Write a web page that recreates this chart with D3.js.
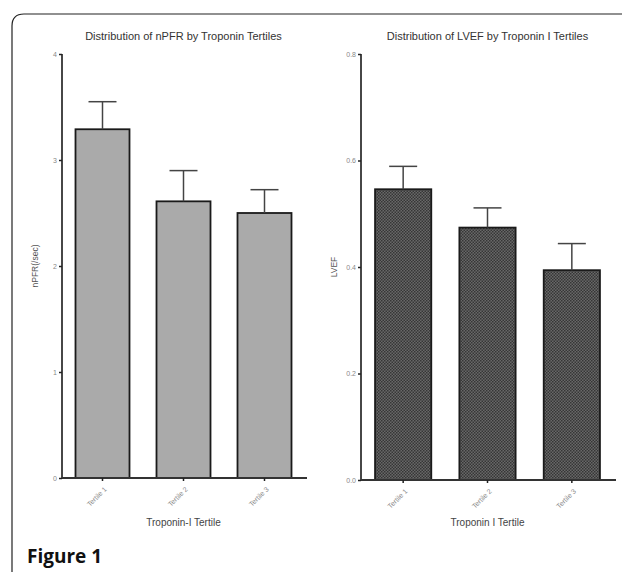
<!DOCTYPE html>
<html><head><meta charset="utf-8">
<script src="https://cdn.jsdelivr.net/npm/d3@7"></script>
<style>body{margin:0;background:#fff}svg{display:block}</style>
</head><body>
<svg id="c" width="622" height="575"></svg>
<script>
const categories = ["Tertile 1", "Tertile 2", "Tertile 3"];
const npfrMeans = [3.29, 2.61, 2.50];
const npfrErrTop = [3.55, 2.90, 2.72];
const lvefMeans = [0.546, 0.474, 0.394];
const lvefErrTop = [0.589, 0.511, 0.444];
const npfrTicks = [0, 1, 2, 3, 4];
const lvefTicks = [0.0, 0.2, 0.4, 0.6, 0.8];

const svg = d3.select("#c");
const defs = svg.append("defs");
const pat = defs.append("pattern").attr("id","dots").attr("patternUnits","userSpaceOnUse")
  .attr("width",3).attr("height",3);
pat.append("rect").attr("width",3).attr("height",3).attr("fill","#686868");
pat.append("rect").attr("x",0).attr("y",0).attr("width",1.5).attr("height",1.5).attr("fill","#363636");
pat.append("rect").attr("x",1.5).attr("y",1.5).attr("width",1.5).attr("height",1.5).attr("fill","#363636");

// frame
svg.append("path")
  .attr("d","M 640 14 L 24 14 Q 12 14 12 26 L 12 572")
  .attr("fill","none").attr("stroke","#222").attr("stroke-width",1.2);

svg.append("text").attr("x",27).attr("y",563).text("Figure 1")
  .attr("font-family","'Open Sans', 'DejaVu Sans', sans-serif").attr("font-weight","bold")
  .attr("font-size",19).attr("fill","#111");

function panel(opt){
  const g = svg.append("g");
  const y = d3.scaleLinear().domain(opt.domain).range([opt.y0, 54]);
  const x = d3.scaleBand().domain(categories).range(opt.xr).paddingInner(1/3).paddingOuter(1/6);
  const font = "'Liberation Sans', Arial, sans-serif";
  g.append("text").attr("x",(opt.xr[0]+opt.xr[1])/2).attr("y",40).attr("text-anchor","middle")
    .attr("font-family",font).attr("font-size",11).attr("fill","#333").text(opt.title);
  g.selectAll("rect.bar").data(opt.means).join("rect").attr("class","bar")
    .attr("x",(d,i)=>x(categories[i])).attr("width",x.bandwidth())
    .attr("y",d=>y(d)).attr("height",d=>y(opt.domain[0])-y(d))
    .attr("fill",opt.fill).attr("stroke","#1a1a1a").attr("stroke-width",1.8);
  const eg = g.selectAll("g.err").data(opt.means).join("g");
  eg.append("line").attr("x1",(d,i)=>x(categories[i])+x.bandwidth()/2).attr("x2",(d,i)=>x(categories[i])+x.bandwidth()/2)
    .attr("y1",d=>y(d)).attr("y2",(d,i)=>y(opt.err[i])).attr("stroke","#444").attr("stroke-width",1.5);
  eg.append("line").attr("x1",(d,i)=>x(categories[i])+x.bandwidth()/2-14).attr("x2",(d,i)=>x(categories[i])+x.bandwidth()/2+14)
    .attr("y1",(d,i)=>y(opt.err[i])).attr("y2",(d,i)=>y(opt.err[i])).attr("stroke","#444").attr("stroke-width",1.5);
  const ya = d3.axisLeft(y).tickValues(opt.ticks).tickFormat(opt.fmt).tickSize(3).tickPadding(2);
  const yg = g.append("g").attr("transform",`translate(${opt.xr[0]},0)`).call(ya);
  yg.select(".domain").attr("stroke","#333").attr("stroke-width",1.8).attr("d",`M0,${y(opt.domain[0])}V${y(opt.domain[1])}`);
  yg.selectAll(".tick line").attr("stroke","#222").attr("stroke-width",1.5);
  yg.selectAll(".tick text").attr("font-family",font).attr("font-size",7).attr("fill","#888");
  const xa = d3.axisBottom(x).tickSize(3).tickPadding(3);
  const xg = g.append("g").attr("transform",`translate(0,${y(opt.domain[0])})`).call(xa);
  xg.select(".domain").attr("stroke","#333").attr("stroke-width",1.8).attr("d",`M${opt.xr[0]},0H${opt.xr[1]+2}`);
  xg.selectAll(".tick line").attr("stroke","#222").attr("stroke-width",1.5);
  xg.selectAll(".tick text").attr("font-family",font).attr("font-size",7).attr("fill","#888")
    .attr("text-anchor","end").attr("dy","0.3em").attr("transform","translate(-1,6) rotate(-45)");
  g.append("text").attr("x",(opt.xr[0]+opt.xr[1])/2).attr("y",526).attr("text-anchor","middle")
    .attr("font-family",font).attr("font-size",10).attr("fill","#444").text(opt.xtitle);
  g.append("text").attr("transform",`translate(${opt.ylx},${(54+opt.y0)/2}) rotate(-90)`).attr("text-anchor","middle")
    .attr("font-family",font).attr("font-size",8.5).attr("fill","#555").text(opt.ytitle);
}

panel({domain:[0,4], y0:478, xr:[62,305], means:npfrMeans, err:npfrErrTop, ticks:npfrTicks,
  fmt:d3.format("d"), fill:"#aaaaaa", title:"Distribution of nPFR by Troponin Tertiles",
  xtitle:"Troponin-I Tertile", ytitle:"nPFR(/sec)", ylx:38});
panel({domain:[0,0.8], y0:480, xr:[361,614], means:lvefMeans, err:lvefErrTop, ticks:lvefTicks,
  fmt:d3.format(".1f"), fill:"url(#dots)", title:"Distribution of LVEF by Troponin I Tertiles",
  xtitle:"Troponin I Tertile", ytitle:"LVEF", ylx:337});
</script>
</body></html>
